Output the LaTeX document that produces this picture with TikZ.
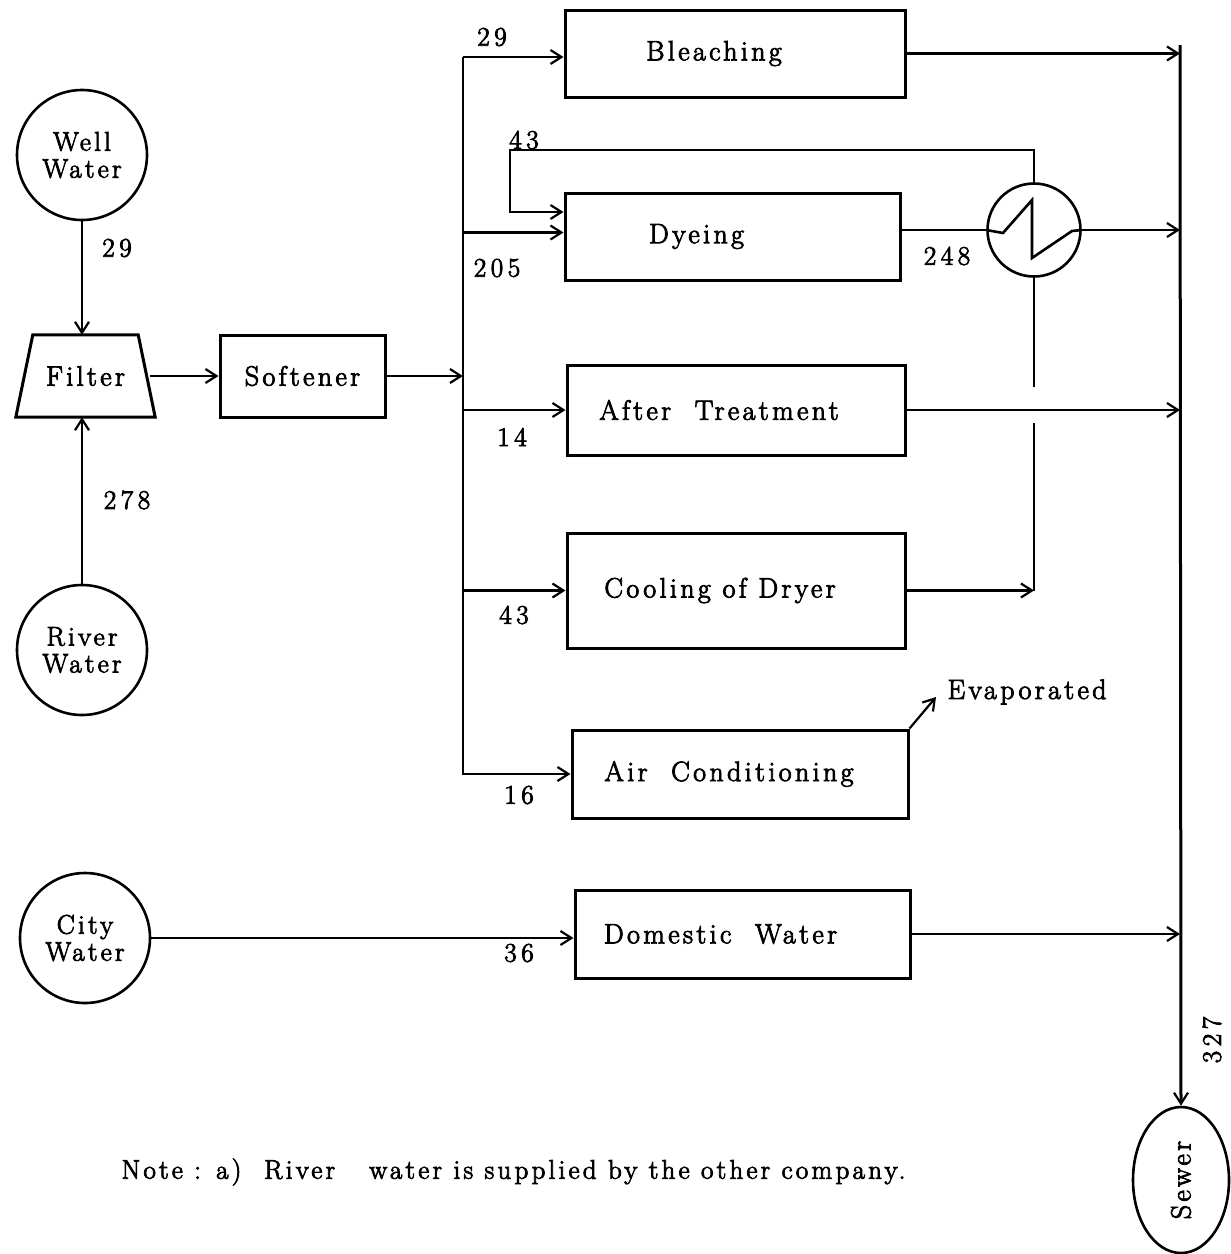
\documentclass[tikz,border=0pt]{standalone}
\usepackage{fontspec}
\setmainfont{Latin Modern Roman}[LetterSpace=12,FakeBold=3]
\newfontfamily\numfont{Latin Modern Roman}[LetterSpace=17,FakeBold=3]
\usetikzlibrary{arrows.meta,shapes.geometric}
\begin{document}
\begin{tikzpicture}[x=1pt,y=-1pt,
  every node/.style={font=\fontsize{28}{31}\selectfont},
  box/.style={draw,line width=3pt,inner sep=0pt},
  src/.style={draw,circle,line width=2.6pt,minimum size=130pt,inner sep=0pt,align=center,font=\fontsize{27}{29}\selectfont},
  ln/.style={line width=2.2pt},
  arr/.style={line width=2.2pt,-{Straight Barb[length=11pt,width=14pt,line width=2.2pt]}},
  num/.style={font=\numfont\fontsize{27}{29}\selectfont}]
\useasboundingbox (0,0) rectangle (1231,1254);
% sources
\node[src] (well) at (82,155) {Well\\[-2pt]Water};
\node[src] (river) at (82,650) {River\\[-2pt]Water};
\node[src] (city) at (85,938) {City\\[-2pt]Water};
% filter
\node[minimum width=139pt,minimum height=82pt,inner sep=0pt] (filter) at (85.5,376) {Filter};
\draw[line width=3pt] ([xshift=17pt]filter.north west) -- ([xshift=-17pt]filter.north east)
  -- (filter.south east) -- (filter.south west) -- cycle;
% boxes
\node[box,minimum width=165pt,minimum height=82pt] (soft) at (302.5,376) {Softener};
\node[box,minimum width=340pt,minimum height=87pt] (bleach) at (735,53.5) {Bleaching\hspace*{42pt}};
\node[box,minimum width=335pt,minimum height=87pt] (dye) at (732.5,236.5) {Dyeing\hspace*{72pt}};
\node[box,minimum width=338pt,minimum height=90pt] (after) at (736,410) {After\ \ Treatment\hspace*{34pt}};
\node[box,minimum width=338pt,minimum height=115pt] (cool) at (736,590.5) {Cooling of\ Dryer\hspace*{32pt}};
\node[box,minimum width=336pt,minimum height=88pt] (ac) at (740,774) {Air\ \ Conditioning\hspace*{22pt}};
\node[box,minimum width=335pt,minimum height=88pt] (dom) at (742.5,934) {Domestic\ \ Water\hspace*{44pt}};
% heat exchanger
\node[draw,circle,line width=2.6pt,minimum size=93pt,inner sep=0pt] (hx) at (1034,230) {};
\draw[line width=2.6pt] (hx.west) -- (1003,233) -- (1032,200) -- (1032,258) -- (1072,231) -- (hx.east);
% sewer
\node[draw,ellipse,line width=2.6pt,minimum width=96pt,minimum height=146pt,inner sep=0pt] (sewer) at (1181,1180) {\rotatebox{90}{Sewer}};
% coordinates
\coordinate (bt) at (463,57);
\coordinate (st) at (1180,45);
\coordinate (r1) at (1034,150);
\coordinate (r2) at (510,150);
\coordinate (r3) at (510,212);
\coordinate (c2) at (1034,423);
\coordinate (c3) at (1034,387);
\coordinate (ev) at (936,697);
% inputs
\draw[arr] (well.south) -- (well.south |- filter.north);
\draw[arr] (river.north) -- (river.north |- filter.south);
\draw[arr] ([xshift=-5pt]filter.east) -- (soft.west);
\draw[arr] (soft.east) -- (soft.east -| bt);
% bus
\draw[arr,line width=2.8pt] (bt) -- (bt |- ac.west) -- (ac.west);
\draw[arr] (bt) -- (bt -| bleach.west);
\draw[arr] ([yshift=4pt]dye.west -| bt) -- ([yshift=4pt]dye.west);
\draw[arr] (after.west -| bt) -- (after.west);
\draw[arr] (cool.west -| bt) -- (cool.west);
% recycle
\draw[arr] (hx.north) -- (r1) -- (r2) -- (r3) -- (r3 -| dye.west);
\draw[ln] (dye.east |- hx) -- (hx.west);
\draw[arr] (hx.east) -- (hx.east -| st);
\draw[arr] (cool.east) -- (cool.east -| c2);
\draw[line width=2.8pt] (cool.east -| c2) -- (c2);
\draw[line width=2.8pt] (c3) -- (hx.south);
% outputs
\draw[arr] (bleach.east) -- (bleach.east -| st);
\draw[arr] (after.east) -- (after.east -| st);
\draw[arr] (dom.east) -- (dom.east -| st);
\draw[arr] (city.east) -- (city.east -| dom.west);
\draw[arr] (ac.north east) -- (ev);
\node[anchor=west] (evap) at (944,692) {Evaporated};
\draw[arr,line width=3pt] (st) -- (sewer.north);
% labels
\node[num] (l1) at (117,248) {29};
\node[num] (l2) at (127,500) {278};
\node[num] (l3) at (492,37) {29};
\node[num] (l4) at (524,140) {43};
\node[num] (l5) at (497,268) {205};
\node[num] (l6) at (947,256) {248};
\node[num] (l7) at (512,437) {14};
\node[num] (l8) at (514,615) {43};
\node[num] (l9) at (519,795) {16};
\node[num] (l10) at (519,953) {36};
\node[num,rotate=90] (l11) at (1212,1040) {327};
\node[anchor=west,font=\fontsize{27}{29}\selectfont] (note) at (118,1172) {Note : a)\ \ River\ \ \ water is supplied by\ the other company.};
\end{tikzpicture}
\end{document}
